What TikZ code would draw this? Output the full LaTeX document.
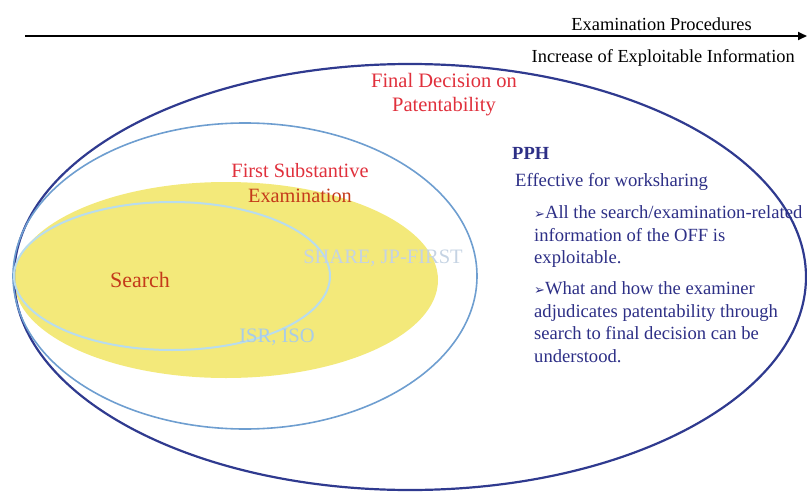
\documentclass[tikz,border=0pt]{standalone}
\usepackage{fontspec}
\setmainfont{Liberation Serif}
\newfontfamily\symfont{DejaVu Sans}
\usetikzlibrary{arrows.meta}
\definecolor{darkring}{HTML}{2F3A8F}
\definecolor{midring}{HTML}{6E9ED0}
\definecolor{lightring}{HTML}{B8DCEE}
\definecolor{yellowfill}{HTML}{F3E97A}
\definecolor{redtext}{HTML}{E0303C}
\definecolor{searchtext}{HTML}{C43A1A}
\definecolor{pphtext}{HTML}{2D2F86}
\definecolor{fainttext}{HTML}{C5D3E3}
\definecolor{isrtext}{HTML}{A9CCE8}
\newcommand{\bul}{{\symfont\fontsize{13}{13}\selectfont ➢}}
\tikzset{
  lbl/.style={inner sep=0pt, font=\fontsize{18.4}{20}\selectfont},
  redlbl/.style={inner sep=0pt, text=redtext, align=center},
  pphlbl/.style={inner sep=0pt, text=pphtext, align=left, anchor=north west,
     font=\fontsize{18.6}{22.5}\selectfont},
}
\begin{document}
\begin{tikzpicture}[x=1pt,y=-1pt]
\useasboundingbox (0,0) rectangle (807,493);
% shapes
\fill[yellowfill] (226,280) ellipse [x radius=212pt, y radius=98pt];
\draw[darkring, line width=2.2pt] (410,277) ellipse [x radius=396pt, y radius=213pt];
\draw[midring, line width=1.6pt] (245,276) ellipse [x radius=232pt, y radius=153pt];
\draw[lightring, line width=2pt] (172,276) ellipse [x radius=158pt, y radius=74pt];
% arrow
\coordinate (arrS) at (25,36);
\coordinate (arrE) at (807,36);
\draw[line width=2pt, -{Triangle[length=9pt,width=8pt]}] (arrS) -- (arrE);
\node[lbl, anchor=east] (proc) at (752,24) {Examination Procedures};
\node[lbl, anchor=east] (incr) at (795,58) {Increase of Exploitable Information};
% labels
\node[redlbl, font=\fontsize{20.5}{24}\selectfont] (final) at (444,95) {Final Decision on\\Patentability};
\node[redlbl, font=\fontsize{20.3}{25}\selectfont] (first) at (300,183) {First Substantive\\\textcolor{searchtext}{Examination}};
\node[inner sep=0pt, text=searchtext, font=\fontsize{22}{24}\selectfont] (search) at (140,280) {Search};
\node[inner sep=0pt, text=fainttext, font=\fontsize{20.5}{24}\selectfont] (share) at (383,258) {SHARE, JP-FIRST};
\node[inner sep=0pt, text=isrtext, font=\fontsize{20.5}{24}\selectfont] (isr) at (277,337) {ISR, ISO};
% PPH
\node[inner sep=0pt, text=pphtext, anchor=west, font=\bfseries\fontsize{18.5}{20}\selectfont] (pph) at (512,153) {PPH};
\node[inner sep=0pt, text=pphtext, anchor=west, font=\fontsize{18.7}{20}\selectfont] (eff) at (515,182) {Effective for worksharing};
\node[pphlbl] (b1) at (534,205.5) {\bul All the search/examination-related\\information of the OFF is\\exploitable.};
\node[pphlbl] (b2) at (534,281.5) {\bul What and how the examiner\\adjudicates patentability through\\search to final decision can be\\understood.};
\end{tikzpicture}
\end{document}
